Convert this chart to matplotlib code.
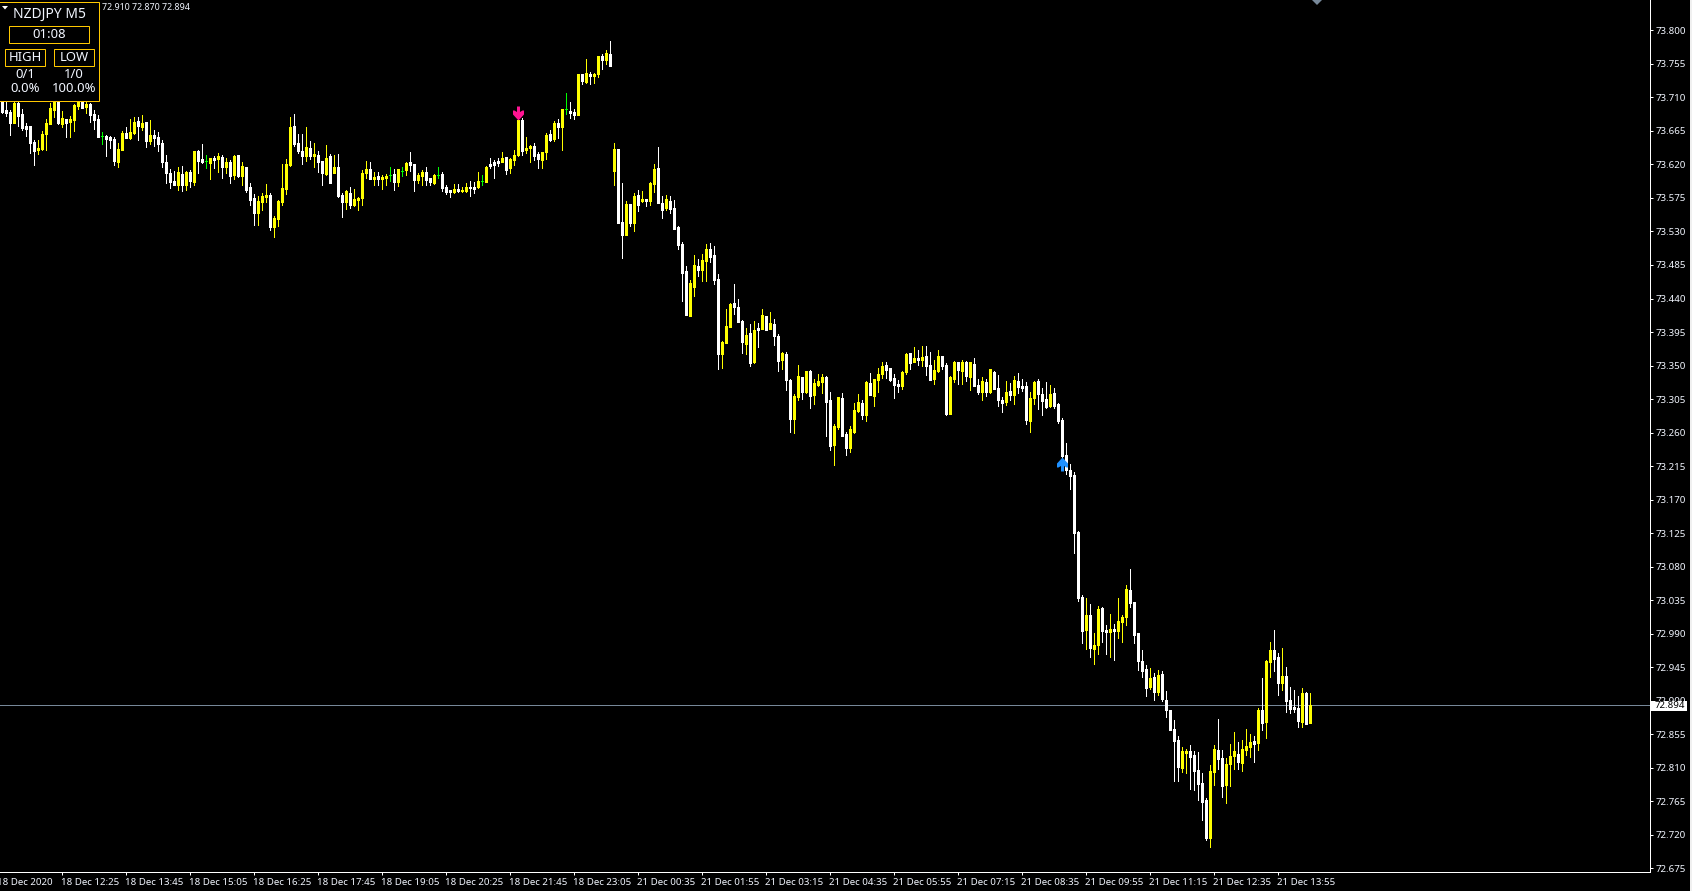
import numpy as np
import matplotlib
matplotlib.use('Agg')
import matplotlib.pyplot as plt
from matplotlib.patches import Rectangle, Polygon

plt.rcParams['font.family'] = ['Noto Sans', 'DejaVu Sans']

# NZDJPY M5 candles, prices in 0.001 points
opens = [
    73712, 73693, 73691, 73676, 73703, 73688, 73672, 73672, 73650, 73639,
    73641, 73661, 73674, 73693, 73705, 73674, 73681, 73677, 73680, 73698,
    73714, 73697, 73701, 73688, 73681, 73658, 73658, 73657, 73654, 73623,
    73639, 73662, 73656, 73662, 73678, 73670, 73677, 73652, 73660, 73657,
    73649, 73623, 73609, 73598, 73592, 73607, 73592, 73610, 73597, 73638,
    73627, 73625, 73622, 73629, 73627, 73630, 73617, 73623, 73606, 73633,
    73605, 73617, 73590, 73575, 73555, 73570, 73576, 73579, 73536, 73547,
    73570, 73587, 73619, 73672, 73649, 73638, 73631, 73642, 73631, 73633,
    73625, 73607, 73631, 73608, 73617, 73579, 73570, 73582, 73566, 73572,
    73575, 73608, 73614, 73600, 73604, 73600, 73602, 73606, 73607, 73596,
    73611, 73612, 73623, 73621, 73599, 73604, 73610, 73602, 73595, 73606,
    73607, 73590, 73586, 73583, 73587, 73584, 73584, 73590, 73590, 73590,
    73598, 73596, 73621, 73623, 73625, 73623, 73630, 73615, 73626, 73633,
    73680, 73639, 73642, 73645, 73634, 73626, 73637, 73661, 73654, 73676,
    73670, 73694, 73692, 73690, 73686, 73741, 73731, 73741, 73739, 73741,
    73766, 73760, 73768, 73611, 73641, 73543, 73525, 73567, 73541, 73579,
    73571, 73574, 73571, 73594, 73615, 73568, 73562, 73571, 73562, 73536,
    73513, 73477, 73417, 73456, 73484, 73478, 73490, 73507, 73498, 73466,
    73366, 73380, 73402, 73434, 73429, 73410, 73379, 73394, 73355, 73401,
    73399, 73417, 73399, 73406, 73390, 73358, 73366, 73331, 73278, 73308,
    73335, 73315, 73343, 73311, 73324, 73328, 73335, 73304, 73243, 73268,
    73307, 73258, 73239, 73261, 73289, 73300, 73284, 73327, 73309, 73331,
    73339, 73351, 73347, 73333, 73325, 73323, 73341, 73367, 73355, 73360,
    73358, 73363, 73351, 73332, 73343, 73363, 73351, 73285, 73332, 73355,
    73343, 73355, 73335, 73352, 73324, 73315, 73328, 73315, 73341, 73320,
    73304, 73301, 73316, 73311, 73329, 73323, 73323, 73276, 73307, 73329,
    73312, 73305, 73296, 73313, 73299, 73277, 73230, 73210, 73203, 73127,
    73039, 72995, 73015, 72970, 72975, 73025, 72995, 72993, 72997, 72994,
    73006, 73013, 73049, 73033, 72991, 72954, 72943, 72919, 72932, 72912,
    72936, 72901, 72888, 72862, 72848, 72810, 72830, 72833, 72827, 72807,
    72790, 72767, 72716, 72805, 72834, 72823, 72787, 72815, 72826, 72829,
    72817, 72834, 72838, 72846, 72844, 72887, 72872, 72952, 72968, 72959,
    72924, 72933, 72901, 72892, 72891, 72872, 72911, 72870,
]
highs = [
    73718, 73710, 73693, 73712, 73709, 73694, 73676, 73672, 73653, 73653,
    73665, 73681, 73702, 73716, 73712, 73692, 73681, 73685, 73701, 73722,
    73720, 73704, 73702, 73693, 73686, 73664, 73660, 73658, 73657, 73649,
    73665, 73670, 73681, 73684, 73683, 73686, 73677, 73680, 73666, 73664,
    73653, 73633, 73614, 73611, 73617, 73618, 73611, 73613, 73638, 73639,
    73647, 73633, 73629, 73631, 73635, 73633, 73629, 73626, 73633, 73633,
    73623, 73617, 73595, 73580, 73577, 73582, 73594, 73582, 73551, 73572,
    73621, 73627, 73683, 73688, 73661, 73661, 73670, 73652, 73649, 73638,
    73625, 73646, 73634, 73633, 73634, 73582, 73586, 73590, 73587, 73576,
    73612, 73625, 73623, 73610, 73610, 73606, 73607, 73617, 73614, 73614,
    73617, 73623, 73637, 73621, 73608, 73612, 73617, 73602, 73607, 73617,
    73610, 73592, 73586, 73594, 73594, 73590, 73595, 73598, 73596, 73610,
    73606, 73618, 73629, 73626, 73629, 73637, 73630, 73629, 73639, 73682,
    73682, 73657, 73646, 73649, 73637, 73637, 73662, 73666, 73678, 73681,
    73694, 73716, 73704, 73694, 73741, 73741, 73762, 73744, 73743, 73766,
    73768, 73774, 73786, 73649, 73641, 73595, 73571, 73567, 73582, 73586,
    73584, 73574, 73596, 73621, 73643, 73578, 73579, 73578, 73572, 73537,
    73516, 73484, 73465, 73498, 73493, 73500, 73513, 73515, 73511, 73473,
    73383, 73426, 73434, 73460, 73439, 73411, 73401, 73406, 73410, 73407,
    73426, 73417, 73422, 73413, 73392, 73368, 73368, 73332, 73312, 73351,
    73335, 73343, 73344, 73332, 73339, 73339, 73336, 73315, 73272, 73308,
    73313, 73261, 73269, 73300, 73312, 73304, 73329, 73340, 73332, 73347,
    73355, 73355, 73347, 73339, 73331, 73343, 73367, 73367, 73375, 73371,
    73376, 73376, 73368, 73358, 73371, 73363, 73354, 73336, 73356, 73355,
    73358, 73356, 73355, 73360, 73332, 73335, 73332, 73346, 73343, 73337,
    73308, 73329, 73327, 73336, 73340, 73332, 73328, 73315, 73329, 73332,
    73320, 73328, 73324, 73320, 73300, 73280, 73246, 73218, 73207, 73128,
    73042, 73038, 73030, 72991, 73027, 73026, 73002, 73017, 73003, 73038,
    73015, 73056, 73077, 73033, 72991, 72968, 72948, 72944, 72937, 72941,
    72940, 72913, 72888, 72874, 72853, 72838, 72835, 72841, 72833, 72831,
    72803, 72770, 72814, 72841, 72876, 72834, 72823, 72842, 72858, 72845,
    72848, 72862, 72856, 72853, 72891, 72931, 72955, 72979, 72995, 72964,
    72971, 72946, 72919, 72915, 72907, 72917, 72912, 72910,
]
lows = [
    73689, 73685, 73660, 73676, 73672, 73666, 73658, 73635, 73619, 73634,
    73639, 73639, 73674, 73684, 73674, 73670, 73657, 73657, 73665, 73694,
    73696, 73689, 73677, 73668, 73657, 73647, 73631, 73642, 73619, 73617,
    73639, 73656, 73654, 73661, 73653, 73666, 73643, 73647, 73645, 73638,
    73617, 73595, 73588, 73592, 73586, 73584, 73586, 73590, 73592, 73609,
    73622, 73615, 73600, 73615, 73610, 73602, 73609, 73595, 73600, 73603,
    73592, 73583, 73566, 73539, 73539, 73559, 73570, 73532, 73523, 73537,
    73566, 73580, 73618, 73645, 73635, 73621, 73625, 73627, 73617, 73610,
    73592, 73606, 73595, 73608, 73576, 73549, 73560, 73562, 73564, 73559,
    73566, 73602, 73600, 73592, 73592, 73587, 73592, 73598, 73586, 73591,
    73604, 73606, 73611, 73584, 73595, 73592, 73592, 73592, 73594, 73602,
    73584, 73580, 73576, 73582, 73583, 73583, 73583, 73578, 73582, 73588,
    73592, 73596, 73615, 73602, 73618, 73623, 73607, 73608, 73619, 73631,
    73633, 73635, 73623, 73626, 73615, 73615, 73627, 73651, 73651, 73655,
    73639, 73688, 73682, 73681, 73686, 73728, 73729, 73728, 73729, 73737,
    73748, 73755, 73752, 73592, 73541, 73494, 73525, 73537, 73531, 73557,
    73570, 73564, 73566, 73583, 73568, 73548, 73559, 73555, 73533, 73507,
    73437, 73418, 73417, 73443, 73470, 73464, 73464, 73489, 73460, 73345,
    73347, 73380, 73402, 73419, 73409, 73367, 73366, 73350, 73354, 73375,
    73399, 73398, 73399, 73378, 73343, 73345, 73317, 73261, 73260, 73304,
    73305, 73313, 73293, 73298, 73323, 73313, 73256, 73237, 73217, 73265,
    73256, 73230, 73234, 73260, 73288, 73278, 73276, 73311, 73296, 73315,
    73333, 73333, 73329, 73307, 73315, 73319, 73339, 73346, 73355, 73351,
    73350, 73337, 73331, 73325, 73341, 73346, 73284, 73285, 73328, 73325,
    73325, 73329, 73317, 73323, 73312, 73304, 73309, 73313, 73319, 73296,
    73288, 73297, 73304, 73298, 73313, 73316, 73272, 73261, 73298, 73292,
    73284, 73293, 73295, 73293, 73273, 73223, 73205, 73184, 73099, 73034,
    72978, 72970, 72959, 72950, 72963, 72979, 72963, 72959, 72955, 72984,
    72979, 73002, 73026, 72978, 72941, 72932, 72907, 72916, 72901, 72908,
    72900, 72878, 72861, 72792, 72792, 72805, 72803, 72782, 72780, 72767,
    72740, 72713, 72704, 72787, 72809, 72771, 72763, 72785, 72809, 72809,
    72806, 72827, 72825, 72818, 72834, 72861, 72850, 72932, 72940, 72908,
    72915, 72885, 72884, 72885, 72865, 72865, 72869, 72870,
]
closes = [
    73690, 73689, 73676, 73703, 73685, 73669, 73668, 73649, 73638, 73642,
    73661, 73676, 73696, 73707, 73676, 73682, 73676, 73681, 73700, 73710,
    73696, 73701, 73686, 73680, 73657, 73658, 73654, 73653, 73625, 73641,
    73662, 73656, 73664, 73677, 73672, 73676, 73652, 73660, 73656, 73647,
    73623, 73609, 73596, 73592, 73610, 73592, 73610, 73598, 73638, 73625,
    73623, 73625, 73629, 73626, 73631, 73617, 73623, 73605, 73631, 73605,
    73618, 73586, 73572, 73555, 73571, 73578, 73579, 73536, 73548, 73571,
    73589, 73621, 73670, 73647, 73638, 73631, 73644, 73631, 73634, 73623,
    73609, 73629, 73595, 73617, 73578, 73570, 73584, 73566, 73574, 73575,
    73608, 73614, 73600, 73603, 73600, 73603, 73604, 73606, 73596, 73614,
    73611, 73622, 73619, 73599, 73606, 73610, 73599, 73596, 73606, 73606,
    73588, 73583, 73583, 73587, 73584, 73586, 73590, 73588, 73587, 73598,
    73598, 73617, 73618, 73619, 73622, 73629, 73612, 73627, 73633, 73680,
    73638, 73642, 73645, 73631, 73627, 73637, 73659, 73653, 73676, 73670,
    73694, 73694, 73689, 73686, 73741, 73732, 73743, 73739, 73741, 73766,
    73760, 73770, 73752, 73641, 73541, 73525, 73567, 73541, 73578, 73566,
    73574, 73571, 73595, 73614, 73568, 73559, 73574, 73560, 73533, 73512,
    73474, 73418, 73461, 73485, 73478, 73492, 73507, 73496, 73465, 73366,
    73382, 73403, 73433, 73429, 73409, 73382, 73391, 73354, 73398, 73398,
    73418, 73398, 73407, 73390, 73356, 73367, 73331, 73278, 73309, 73336,
    73315, 73343, 73309, 73327, 73329, 73335, 73301, 73242, 73269, 73308,
    73256, 73239, 73265, 73290, 73301, 73284, 73328, 73311, 73332, 73339,
    73350, 73344, 73331, 73324, 73323, 73341, 73366, 73354, 73360, 73358,
    73362, 73350, 73331, 73344, 73363, 73350, 73285, 73335, 73355, 73344,
    73355, 73336, 73355, 73323, 73315, 73329, 73315, 73346, 73319, 73304,
    73300, 73315, 73311, 73331, 73321, 73320, 73277, 73307, 73328, 73312,
    73303, 73295, 73312, 73296, 73276, 73229, 73210, 73202, 73125, 73038,
    72994, 73015, 72971, 72975, 73023, 72994, 72993, 72997, 72994, 73007,
    73013, 73050, 73031, 72988, 72954, 72940, 72917, 72931, 72912, 72935,
    72903, 72888, 72861, 72846, 72811, 72833, 72833, 72825, 72806, 72788,
    72764, 72716, 72806, 72835, 72822, 72785, 72815, 72826, 72832, 72818,
    72835, 72839, 72845, 72842, 72887, 72870, 72954, 72968, 72956, 72924,
    72933, 72900, 72889, 72889, 72873, 72911, 72869, 72894,
]

price_ticks = [73.800, 73.755, 73.710, 73.665, 73.620, 73.575, 73.530, 73.485, 73.440,
               73.395, 73.350, 73.305, 73.260, 73.215, 73.170, 73.125, 73.080, 73.035,
               72.990, 72.945, 72.900, 72.855, 72.810, 72.765, 72.720, 72.675]
time_labels = ['18 Dec 2020', '18 Dec 12:25', '18 Dec 13:45', '18 Dec 15:05', '18 Dec 16:25',
               '18 Dec 17:45', '18 Dec 19:05', '18 Dec 20:25', '18 Dec 21:45', '18 Dec 23:05',
               '21 Dec 00:35', '21 Dec 01:55', '21 Dec 03:15', '21 Dec 04:35', '21 Dec 05:55',
               '21 Dec 07:15', '21 Dec 08:35', '21 Dec 09:55', '21 Dec 11:15', '21 Dec 12:35',
               '21 Dec 13:55']
time_tick_bars = [-1 + 16 * k for k in range(len(time_labels))]
current_price = 72.894
sell_bar, sell_price = 129, 73.689
buy_bar, buy_price = 265, 73.2183

TEXT = '#f2f6ff'
GOLD = '#ffc800'
W, H = 1692, 891
PX = 72 / 100  # one pixel in points

o = np.array(opens) / 1000
h = np.array(highs) / 1000
l = np.array(lows) / 1000
c = np.array(closes) / 1000
bars = np.arange(len(o))
colors = np.where(c > o, '#ffff00', np.where(c < o, '#ffffff', '#00ff00')).tolist()

fig = plt.figure(figsize=(W / 100, H / 100), dpi=100, facecolor='black')
ax = fig.add_axes([0, 1 - 871.7 / H, 1649.5 / W, 871.7 / H], facecolor='black')
ax.set_xlim(-0.5, 411.875)
ax.set_ylim(72.6706, 73.8407)

# wicks and bodies
ax.vlines(bars, l, h, colors=colors, linewidth=PX, antialiased=False, capstyle='butt', zorder=2)
ax.bar(bars, np.abs(c - o), bottom=np.minimum(o, c), width=0.5, color=colors, edgecolor=colors,
       linewidth=PX, antialiased=False, zorder=3)

ax.axhline(current_price, color='#778899', linewidth=PX, zorder=1)

# signal arrows
arrow_down = [(-1.5, 7), (1.5, 7), (1.5, 1.5), (4, 3), (5.5, 3), (5.5, -1), (0, -7),
              (-5.5, -1), (-5.5, 3), (-4, 3), (-1.5, 1.5)]
arrow_up = [(x, -y) for x, y in arrow_down]
ax.plot([sell_bar], [sell_price], marker=arrow_down, ms=14 * PX, color='#ff1493', mew=0, zorder=4)
ax.plot([buy_bar], [buy_price], marker=arrow_up, ms=14 * PX, color='#1e90ff', mew=0, zorder=4)

# axes
for side in ['top', 'left']:
    ax.spines[side].set_visible(False)
for side in ['right', 'bottom']:
    ax.spines[side].set_color('white')
    ax.spines[side].set_linewidth(PX)
ax.yaxis.tick_right()
ax.set_yticks(price_ticks, [f'{p:.3f}' for p in price_ticks])
ax.tick_params(axis='y', length=3 * PX, width=PX, color='white', labelcolor=TEXT, labelsize=7, pad=2)
ax.set_xticks([b for b in time_tick_bars if b >= 0])
ax.set_xticklabels([])
ax.tick_params(axis='x', length=3 * PX, width=PX, color='white')
for bar, label in zip(time_tick_bars, time_labels):
    ax.text(bar - 0.25, -10.5 / 871.7, label, transform=ax.get_xaxis_transform(), color=TEXT, fontsize=7,
            ha='left', va='center', clip_on=False)

# overlay in pixel coordinates for the info panel and price tag
ov = fig.add_axes([0, 0, 1, 1])
ov.set_xlim(0, W)
ov.set_ylim(H, 0)
ov.axis('off')
ov.patch.set_alpha(0)

ov.add_patch(Rectangle((-1, 1.5), 100, 99, facecolor='black', edgecolor=GOLD, linewidth=PX))
for x, y, wd, ht in [(8.5, 25.5, 80, 17), (4.5, 48.5, 40, 17), (53.5, 48.5, 40, 17)]:
    ov.add_patch(Rectangle((x, y), wd, ht, facecolor='black', edgecolor=GOLD, linewidth=PX))
ov.add_patch(Polygon([(2, 6), (8, 6), (5, 9.5)], closed=True, color='white', lw=0))
ov.text(49, 14.5, 'NZDJPY M5', color=TEXT, fontsize=10, ha='center', va='center')
panel_texts = [(49.5, 34.5, '01:08'), (25, 57.5, 'HIGH'), (74, 57.5, 'LOW'),
               (25, 74, '0/1'), (74, 74, '1/0'), (25, 89, '0.0%'), (74, 89, '100.0%')]
for x, y, s in panel_texts:
    ov.text(x, y, s, color=TEXT, fontsize=9.4, ha='center', va='center')
ov.text(101.5, 7.5, '72.910 72.870 72.894', color=TEXT, fontsize=6.4, ha='left', va='center')

ov.add_patch(Polygon([(1312, 0), (1322, 0), (1317, 5)], closed=True, color='#778899', lw=0))

ov.add_patch(Rectangle((1651, 700.5), 36, 10.5, facecolor='white', edgecolor='none', zorder=5))
ov.text(1655, 705.7, f'{current_price:.3f}', color='black', fontsize=7, ha='left', va='center', zorder=6)

# thin window border along the right edge
ov.add_patch(Rectangle((1690, 0), 2, H, facecolor='#f0f0f0', edgecolor='none'))

fig.savefig('out.png', dpi=100, facecolor='black')
